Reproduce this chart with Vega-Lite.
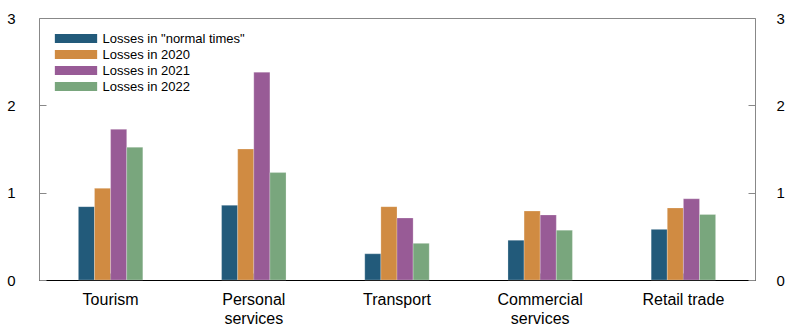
{
  "$schema": "https://vega.github.io/schema/vega-lite/v6.json",
  "width": 716,
  "height": 262,
  "autosize": {"type": "none"},
  "padding": {"left": 39, "top": 18, "right": 42, "bottom": 56},
  "config": {
    "font": "Liberation Sans",
    "view": {"stroke": "#888", "strokeWidth": 1},
    "axis": {"grid": false, "labelFont": "Liberation Sans", "labelFontSize": 15, "labelColor": "#000", "title": null}
  },
  "data": {
    "values": [
      {"sector": "Tourism", "series": "Losses in \"normal times\"", "value": 0.84},
      {"sector": "Tourism", "series": "Losses in 2020", "value": 1.05},
      {"sector": "Tourism", "series": "Losses in 2021", "value": 1.725},
      {"sector": "Tourism", "series": "Losses in 2022", "value": 1.52},
      {"sector": "Personal services", "series": "Losses in \"normal times\"", "value": 0.855},
      {"sector": "Personal services", "series": "Losses in 2020", "value": 1.5},
      {"sector": "Personal services", "series": "Losses in 2021", "value": 2.38},
      {"sector": "Personal services", "series": "Losses in 2022", "value": 1.23},
      {"sector": "Transport", "series": "Losses in \"normal times\"", "value": 0.3},
      {"sector": "Transport", "series": "Losses in 2020", "value": 0.84},
      {"sector": "Transport", "series": "Losses in 2021", "value": 0.71},
      {"sector": "Transport", "series": "Losses in 2022", "value": 0.42},
      {"sector": "Commercial services", "series": "Losses in \"normal times\"", "value": 0.455},
      {"sector": "Commercial services", "series": "Losses in 2020", "value": 0.79},
      {"sector": "Commercial services", "series": "Losses in 2021", "value": 0.745},
      {"sector": "Commercial services", "series": "Losses in 2022", "value": 0.57},
      {"sector": "Retail trade", "series": "Losses in \"normal times\"", "value": 0.58},
      {"sector": "Retail trade", "series": "Losses in 2020", "value": 0.825},
      {"sector": "Retail trade", "series": "Losses in 2021", "value": 0.93},
      {"sector": "Retail trade", "series": "Losses in 2022", "value": 0.75}
    ]
  },
  "layer": [
    {
      "mark": {"type": "bar", "stroke": "#ffffff", "strokeWidth": 0.4, "strokeOpacity": 0.6},
      "encoding": {
        "x": {
          "field": "sector", "type": "nominal",
          "sort": ["Tourism", "Personal services", "Transport", "Commercial services", "Retail trade"],
          "scale": {"paddingInner": 0.55, "paddingOuter": 0.275},
          "axis": {
            "labelAngle": 0, "tickSize": -7, "tickColor": "#333", "domainColor": "#000", "domainWidth": 1.2,
            "labelPadding": 18, "labelLineHeight": 19, "labelBaseline": "top", "labelFontSize": 16,
            "labelExpr": "datum.value == 'Personal services' ? ['Personal', 'services'] : datum.value == 'Commercial services' ? ['Commercial', 'services'] : datum.value"
          }
        },
        "xOffset": {
          "field": "series", "type": "nominal",
          "sort": ["Losses in \"normal times\"", "Losses in 2020", "Losses in 2021", "Losses in 2022"]
        },
        "y": {
          "field": "value", "type": "quantitative",
          "scale": {"domain": [0, 3], "nice": false},
          "axis": {"orient": "left", "values": [0, 1, 2, 3], "tickSize": -7, "tickColor": "#888", "domain": false, "labelPadding": 31}
        },
        "color": {
          "field": "series", "type": "nominal",
          "scale": {
            "domain": ["Losses in \"normal times\"", "Losses in 2020", "Losses in 2021", "Losses in 2022"],
            "range": ["#225a7a", "#d08b42", "#985b96", "#79a67d"]
          },
          "legend": {
            "title": null, "orient": "none", "legendX": 30.5, "legendY": 14,
            "symbolType": "M-4.7,-1H4.7V1H-4.7Z", "symbolSize": 81, "symbolStrokeWidth": 0, "symbolOpacity": 1,
            "labelFontSize": 13, "labelFont": "Liberation Sans", "labelColor": "#000", "labelOffset": 20, "rowPadding": 2, "padding": 0
          }
        }
      }
    },
    {
      "mark": {"type": "rule", "opacity": 0},
      "encoding": {
        "y": {
          "field": "value", "type": "quantitative",
          "scale": {"domain": [0, 3], "nice": false},
          "axis": {"orient": "right", "values": [0, 1, 2, 3], "tickSize": -7, "tickColor": "#888", "domain": false, "labelPadding": 28}
        }
      }
    }
  ],
  "resolve": {"scale": {"y": "independent"}}
}
